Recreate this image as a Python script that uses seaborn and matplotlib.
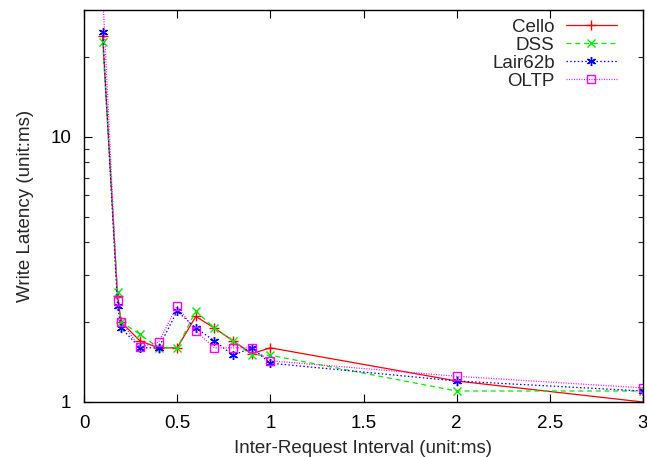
import matplotlib
matplotlib.use("Agg")
import matplotlib.pyplot as plt
import matplotlib.ticker as mticker
from matplotlib.lines import Line2D
import seaborn as sns
import pandas as pd

x = [0.1, 0.18, 0.2, 0.3, 0.4, 0.5, 0.6, 0.7, 0.8, 0.9, 1.0, 2.0, 3.0]
cello = [24.0, 2.5, 2.0, 1.70, 1.60, 1.60, 2.10, 1.90, 1.70, 1.52, 1.60, 1.20, 1.00]
dss = [22.8, 2.6, 2.0, 1.80, 1.60, 1.60, 2.20, 1.90, 1.70, 1.50, 1.50, 1.10, 1.10]
lair = [24.8, 2.3, 1.9, 1.60, 1.60, 2.20, 1.90, 1.70, 1.50, 1.60, 1.40, 1.20, 1.10]
oltp = [35.0, 2.4, 2.0, 1.61, 1.68, 2.30, 1.85, 1.60, 1.60, 1.60, 1.43, 1.25, 1.13]

names = ["Cello", "DSS", "Lair62b", "OLTP"]
series = [cello, dss, lair, oltp]

sns.set_style("ticks")
plt.rcParams["font.family"] = ["Liberation Sans", "DejaVu Sans"]

fig = plt.figure(figsize=(6.47, 4.57), dpi=100)
ax = fig.add_axes([84 / 647, 1 - 402 / 457, (643 - 84) / 647, (402 - 10) / 457])

styles = [
    dict(color="#ff0000", linestyle="-", marker="+", markersize=7,
         markerfacecolor="none"),
    dict(color="#00ee00", linestyle=(0, (4, 3)), marker="x", markersize=5.5,
         markerfacecolor="none"),
    dict(color="#0000ff", linestyle=(0, (1.2, 1.8)), marker=(6, 2, 0), markersize=6.5,
         markerfacecolor="none"),
    dict(color="#ff00ff", linestyle=(0, (0.8, 1.2)), marker="s", markersize=6,
         markerfacecolor="none"),
]

handles = []
for name, vals, st in zip(names, series, styles):
    df = pd.DataFrame({"x": x, "y": vals})
    n_before = len(ax.lines)
    sns.lineplot(data=df, x="x", y="y", ax=ax, linewidth=0.9, color=st["color"],
                 linestyle=st["linestyle"], legend=False)
    ln = ax.lines[n_before]
    ln.set_marker(st["marker"])
    ln.set_markersize(st["markersize"])
    ln.set_markerfacecolor(st["markerfacecolor"])
    ln.set_markeredgecolor(st["color"])
    ln.set_markeredgewidth(1.0)
    handles.append(Line2D([], [], linewidth=0.9, markeredgewidth=1.0, label=name,
                          markeredgecolor=st["color"], **st))

ax.set_yscale("log")
ax.set_xlim(0, 3)
ax.set_ylim(1, 30)
ax.set_xticks([0, 0.5, 1, 1.5, 2, 2.5, 3])
ax.set_xticklabels(["0", "0.5", "1", "1.5", "2", "2.5", "3"])
ax.yaxis.set_major_locator(mticker.FixedLocator([1, 10]))
ax.yaxis.set_major_formatter(mticker.FixedFormatter(["1", "10"]))
ax.yaxis.set_minor_locator(mticker.LogLocator(base=10, subs=range(2, 10)))
ax.yaxis.set_minor_formatter(mticker.NullFormatter())

ax.tick_params(axis="both", which="major", direction="in", length=6, width=0.8,
               top=True, right=True, labelsize=13.5, pad=9, colors="black")
ax.tick_params(axis="y", which="minor", direction="in", length=3.5, width=0.8,
               right=True)
for s in ax.spines.values():
    s.set_linewidth(1.0)
    s.set_color("black")

ax.set_xlabel("Inter-Request Interval (unit:ms)", fontsize=13.5, labelpad=6)
ax.set_ylabel("Write Latency (unit:ms)", fontsize=13.5, labelpad=12)

leg = ax.legend(handles=handles, loc="upper right", frameon=False, markerfirst=False,
                fontsize=13.5, handlelength=2.7, handletextpad=0.6, labelspacing=0.05,
                borderaxespad=0.9, borderpad=0.3,
                bbox_to_anchor=(1 - 4 / 559, 1 + 14 / 392))

fig.savefig("out.png", dpi=100)
